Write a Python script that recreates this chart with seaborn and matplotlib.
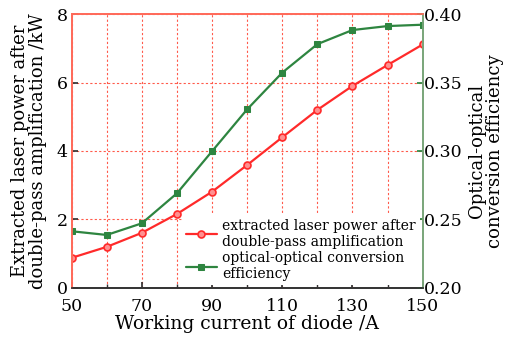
import matplotlib
matplotlib.use("Agg")
import matplotlib.pyplot as plt
import seaborn as sns
import pandas as pd
from matplotlib.ticker import MultipleLocator, FixedLocator, FormatStrFormatter

current = [50, 60, 70, 80, 90, 100, 110, 120, 130, 140, 150]
power = [0.88, 1.20, 1.61, 2.16, 2.81, 3.59, 4.40, 5.20, 5.90, 6.51, 7.11]
efficiency = [0.2414, 0.2387, 0.2472, 0.2691, 0.2998, 0.3304, 0.3572, 0.3780, 0.3883, 0.3912, 0.3922]
x_ticks = [50, 70, 90, 110, 130, 150]

sns.set_theme(style="ticks")
plt.rcParams['font.family'] = ['DejaVu Serif']
plt.rcParams['mathtext.fontset'] = 'dejavuserif'
plt.rcParams['text.color'] = 'black'
plt.rcParams['axes.labelcolor'] = 'black'
plt.rcParams['xtick.labelcolor'] = 'black'
plt.rcParams['ytick.labelcolor'] = 'black'

RED = '#ff2a2a'
GREEN = '#2e8540'
GRID = '#ff5a4a'

df = pd.DataFrame({'current': current, 'power': power, 'eff': efficiency})

fig = plt.figure(figsize=(5.08, 3.42), dpi=100)
ax = fig.add_axes([0.141, 0.158, 0.691, 0.801])
ax2 = ax.twinx()

sns.lineplot(data=df, x='current', y='power', ax=ax, color=RED, marker='o',
             markersize=5, markerfacecolor='#ff9090', markeredgecolor=RED,
             markeredgewidth=1.2, linewidth=1.6, legend=False)
sns.lineplot(data=df, x='current', y='eff', ax=ax2, color=GREEN, marker='s',
             markersize=5, markeredgecolor=GREEN, linewidth=1.6, legend=False)

ax.set_xlim(50, 150)
ax.set_ylim(0, 8)
ax2.set_ylim(0.20, 0.40)
ax.xaxis.set_major_locator(FixedLocator(x_ticks))
ax.xaxis.set_minor_locator(FixedLocator(current))
ax.yaxis.set_major_locator(MultipleLocator(2))
ax2.yaxis.set_major_locator(MultipleLocator(0.05))
ax2.yaxis.set_major_formatter(FormatStrFormatter('%.2f'))

ax.grid(True, which='both', axis='x', color=GRID, linestyle=(0, (2, 2)), linewidth=0.8)
ax.grid(True, which='major', axis='y', color=GRID, linestyle=(0, (2, 2)), linewidth=0.8)
ax.set_axisbelow(True)

ax.tick_params(axis='both', which='both', direction='in', labelsize=12.5, color='#333333')
ax.tick_params(axis='x', which='major', length=4, pad=7)
ax.tick_params(axis='x', which='minor', length=3)
ax.tick_params(axis='y', length=4, pad=3)
ax2.tick_params(axis='y', direction='in', labelsize=12.5, length=4, pad=1, color=GREEN)

for a in (ax, ax2):
    a.spines['top'].set_color('#ff6a5a')
    a.spines['left'].set_color('#ff6a5a')
    a.spines['right'].set_color('#7aa67a')
    a.spines['bottom'].set_color('#333333')

ax.set_xlabel('Working current of diode /A', fontsize=13.5, labelpad=0)
ax.set_ylabel('Extracted laser power after\ndouble-pass amplification /kW',
              fontsize=13, labelpad=7, linespacing=0.95)
ax2.set_ylabel('Optical-optical\nconversion efficiency', fontsize=13,
               labelpad=4, linespacing=0.95)

h1 = ax.get_lines()[0]
h2 = ax2.get_lines()[0]
ax2.legend([h1, h2], ['extracted laser power after\ndouble-pass amplification',
                      'optical-optical conversion\nefficiency'],
           loc='lower right', bbox_to_anchor=(1.0, 0.0), frameon=True,
           facecolor='white', edgecolor='none', framealpha=1.0,
           fontsize=10, handlelength=2.2, handletextpad=0.4,
           labelspacing=0.15, borderpad=0.3, borderaxespad=0.2)

fig.savefig('out.png', dpi=100)
